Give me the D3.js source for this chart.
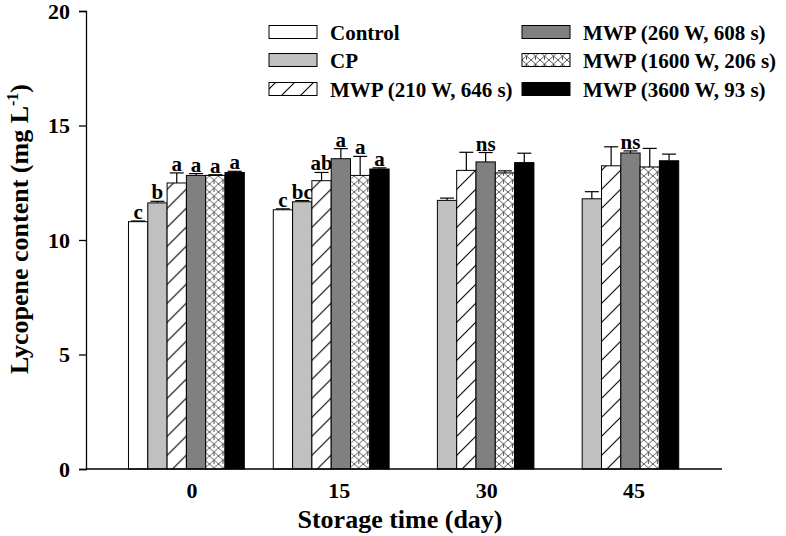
<!DOCTYPE html>
<html>
<head>
<meta charset="utf-8">
<script src="https://cdn.jsdelivr.net/npm/d3@7/dist/d3.min.js"></script>
<style>
  body { margin: 0; background: #fff; }
  svg { display: block; }
  text { font-family: "Liberation Serif", "Times New Roman", serif; font-weight: bold; fill: #000; }
</style>
</head>
<body>
<svg id="chart" width="786" height="536"></svg>
<script>
// ---- data ----
const days = ["0", "15", "30", "45"];
const series = ["Control", "CP", "MWP (210 W, 646 s)", "MWP (260 W, 608 s)", "MWP (1600 W, 206 s)", "MWP (3600 W, 93 s)"];
const control = [10.80, 11.32, null, null];
const cp      = [11.62, 11.67, 11.73, 11.80];
const mwp210  = [12.49, 12.59, 13.04, 13.24];
const mwp260  = [12.82, 13.55, 13.41, 13.80];
const mwp1600 = [12.82, 12.82, 12.93, 13.19];
const mwp3600 = [12.95, 13.10, 13.38, 13.46];
const errControl = [0.03, 0.04, null, null];
const errCp      = [0.07, 0.05, 0.10, 0.31];
const err210     = [0.44, 0.36, 0.79, 0.83];
const err260     = [0.08, 0.44, 0.41, 0.09];
const err1600    = [0.03, 0.83, 0.09, 0.81];
const err3600    = [0.05, 0.05, 0.41, 0.29];
const letters = [
  ["c", "b", "a", "a", "a", "a"],
  ["c", "bc", "ab", "a", "a", "a"],
  ["", "", "", "ns", "", ""],
  ["", "", "", "ns", "", ""]
];
const yTicks = [0, 5, 10, 15, 20];

const values = [control, cp, mwp210, mwp260, mwp1600, mwp3600];
const errors = [errControl, errCp, err210, err260, err1600, err3600];

// ---- chart ----
const svg = d3.select("#chart");
const defs = svg.append("defs");

const hatch = defs.append("pattern").attr("id", "hatch")
  .attr("patternUnits", "userSpaceOnUse").attr("width", 19).attr("height", 19);
hatch.append("rect").attr("width", 19).attr("height", 19).attr("fill", "#fff");
hatch.append("path").attr("d", "M-2,21 L21,-2 M-2,2 L2,-2 M17,21 L21,17")
  .attr("stroke", "#000").attr("stroke-width", 1.1);

const lattice = defs.append("pattern").attr("id", "lattice")
  .attr("patternUnits", "userSpaceOnUse").attr("width", 9).attr("height", 8);
lattice.append("rect").attr("width", 9).attr("height", 8).attr("fill", "#fff");
lattice.append("path").attr("d", "M0,0 L4.5,4 L9,0 M0,8 L4.5,4 L9,8 M4.5,4 L4.5,8")
  .attr("stroke", "#333").attr("stroke-width", 0.8).attr("fill", "none");

const fills = ["#ffffff", "#c0c0c0", "url(#hatch)", "#808080", "url(#lattice)", "#000000"];

const y = d3.scaleLinear().domain([0, 20]).range([469, 11]);
const x0 = d3.scaleBand().domain(days).range([114, 693.2]).paddingInner(0.2).paddingOuter(0.1);
const x1 = d3.scaleBand().domain(d3.range(series.length)).range([0, x0.bandwidth()]);
const xLab = d3.scaleBand().domain(days).range([118.3, 707.7]).paddingInner(0.2).paddingOuter(0.1);

// bars
days.forEach((d, gi) => {
  const g = svg.append("g").attr("transform", `translate(${x0(d)},0)`);
  series.forEach((s, si) => {
    const v = values[si][gi];
    if (v == null) return;
    const bx = x1(si), bw = x1.bandwidth();
    g.append("rect")
      .attr("x", bx).attr("y", y(v))
      .attr("width", bw).attr("height", y(0) - y(v))
      .attr("fill", fills[si]).attr("stroke", "#000").attr("stroke-width", 1);
    const e = errors[si][gi];
    const cx = bx + bw / 2;
    const top = y(v + e);
    g.append("line").attr("x1", cx).attr("x2", cx).attr("y1", y(v)).attr("y2", top)
      .attr("stroke", "#000").attr("stroke-width", 1.2);
    g.append("line").attr("x1", cx - 7).attr("x2", cx + 7).attr("y1", top).attr("y2", top)
      .attr("stroke", "#000").attr("stroke-width", 1.2);
    const lab = letters[gi][si];
    if (lab) {
      g.append("text").attr("x", cx).attr("y", top - 2)
        .attr("text-anchor", "middle").attr("font-size", 21).text(lab);
    }
  });
});

// y axis
const yAxis = svg.append("g").attr("transform", "translate(86,0)")
  .call(d3.axisLeft(y).tickValues(yTicks).tickSize(7).tickPadding(9));
yAxis.selectAll("text").attr("font-size", 22).style("font-family", "Liberation Serif").style("font-weight", "bold");
yAxis.selectAll("line, path").attr("stroke", "#000").attr("stroke-width", 1.3);

// x axis
const xAxis = svg.append("g").attr("transform", "translate(0,469)")
  .call(d3.axisBottom(xLab).tickSize(0).tickPadding(13));
xAxis.select(".domain").remove();
xAxis.selectAll("text").attr("font-size", 22).style("font-family", "Liberation Serif").style("font-weight", "bold");
svg.append("line").attr("x1", 86).attr("x2", 722).attr("y1", 469).attr("y2", 469)
  .attr("stroke", "#000").attr("stroke-width", 1.3);

// axis titles
svg.append("text").attr("x", 400).attr("y", 528).attr("text-anchor", "middle")
  .attr("font-size", 26).text("Storage time (day)");
const yt = svg.append("text").attr("transform", "translate(28,229) rotate(-90)")
  .attr("text-anchor", "middle").attr("font-size", 26);
yt.append("tspan").text("Lycopene content (mg L");
yt.append("tspan").attr("dy", -10).attr("font-size", 16).text("-1");
yt.append("tspan").attr("dy", 10).text(")");

// legend
const legCols = [269, 522];
const legRows = [32, 60, 89];
series.forEach((s, i) => {
  const col = Math.floor(i / 3), row = i % 3;
  const lg = svg.append("g").attr("transform", `translate(${legCols[col]},${legRows[row]})`);
  lg.append("rect").attr("x", 0).attr("y", -6.5).attr("width", 48).attr("height", 13)
    .attr("fill", fills[i]).attr("stroke", "#000").attr("stroke-width", 1);
  lg.append("text").attr("x", 61).attr("y", 7.5).attr("font-size", 21).text(s);
});
</script>
</body>
</html>
